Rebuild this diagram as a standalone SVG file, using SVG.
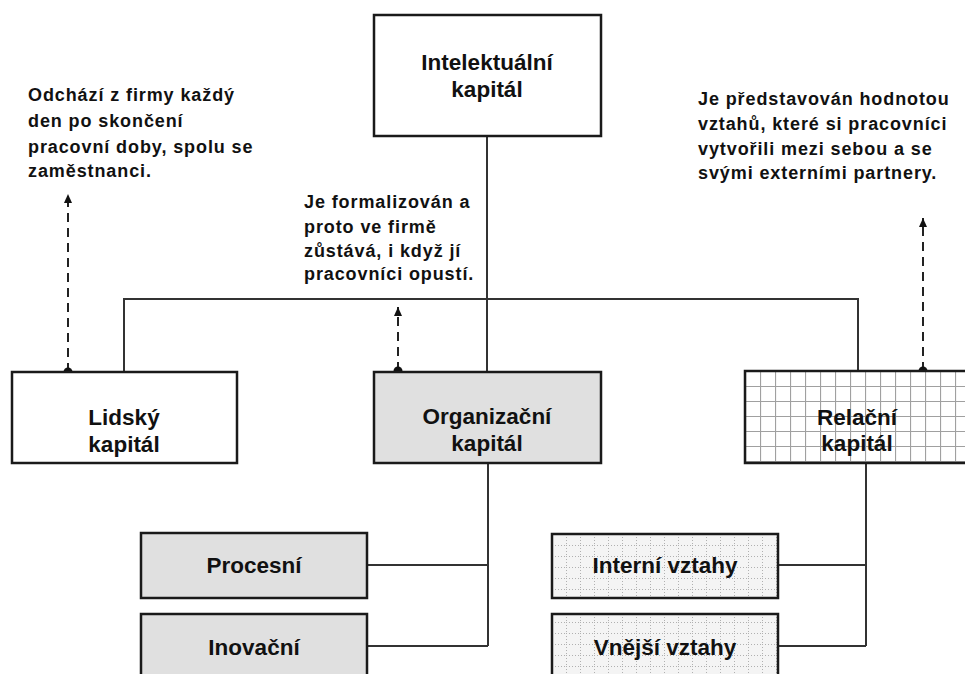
<svg xmlns="http://www.w3.org/2000/svg" width="965" height="674" viewBox="0 0 965 674">
<defs>
<style>
.box{stroke:#1a1a1a;stroke-width:2.5}
.lbl{font-family:"Liberation Sans",Arial,sans-serif;font-weight:bold;font-size:22.5px;fill:#111;text-anchor:middle}
.note{font-family:"Liberation Sans",Arial,sans-serif;font-weight:bold;font-size:18px;fill:#111;letter-spacing:0.9px}
.con{stroke:#333;stroke-width:2;fill:none}
.dash{stroke:#222;stroke-width:2;stroke-dasharray:9,6;fill:none}
</style>
<pattern id="grid" width="15" height="15" patternUnits="userSpaceOnUse" x="745" y="371">
<rect width="15" height="15" fill="#fff"/>
<path d="M0 0.5H15M0.5 0V15" stroke="#a0a0a0" stroke-width="1.2"/>
</pattern>
<pattern id="dots" width="14" height="11" patternUnits="userSpaceOnUse" x="552" y="534">
<rect width="14" height="11" fill="#f4f4f4"/>
<path d="M0 0.5H14M0.5 0V11" stroke="#b0b0b0" stroke-width="1" stroke-dasharray="1,2"/>
</pattern>
<marker id="arr" markerWidth="10" markerHeight="10" refX="9" refY="4.5" orient="auto" markerUnits="userSpaceOnUse">
<path d="M0 0.5 L9 4.5 L0 8.5 Z" fill="#111"/>
</marker>
</defs>

<g id="connectors">
<path class="con" d="M487 136V372"/>
<path class="con" d="M124 372V299H858V371"/>
<path class="con" d="M488 463V646"/>
<path class="con" d="M367 565H488M367 646H488"/>
<path class="con" d="M866 463V646"/>
<path class="con" d="M778 565H866M778 646H866"/>
<path class="dash" d="M68 372V194" marker-end="url(#arr)"/>
<path class="dash" d="M398 371V307" marker-end="url(#arr)"/>
<path class="dash" d="M923 371V218" marker-end="url(#arr)"/>
<circle cx="68" cy="372" r="4.5" fill="#111"/>
<circle cx="398" cy="371" r="4.5" fill="#111"/>
<circle cx="923" cy="371" r="4.5" fill="#111"/>
</g>

<g id="intelektualni">
<rect class="box" x="374" y="15" width="227" height="121" fill="#fff"/>
<text class="lbl" x="487" y="70">Intelektuální</text>
<text class="lbl" x="487" y="97">kapitál</text>
</g>

<g id="lidsky">
<rect class="box" x="12" y="372" width="225" height="91" fill="#fff"/>
<text class="lbl" x="124" y="425">Lidský</text>
<text class="lbl" x="124" y="452">kapitál</text>
</g>

<g id="organizacni">
<rect class="box" x="374" y="372" width="227" height="91" fill="#e0e0e0"/>
<text class="lbl" x="487" y="424">Organizační</text>
<text class="lbl" x="487" y="451">kapitál</text>
</g>

<g id="relacni">
<rect class="box" x="745" y="371" width="230" height="92" fill="url(#grid)"/>
<text class="lbl" x="857" y="425">Relační</text>
<text class="lbl" x="857" y="451">kapitál</text>
</g>

<g id="procesni">
<rect class="box" x="141" y="533" width="226" height="65" fill="#e0e0e0"/>
<text class="lbl" x="254" y="573">Procesní</text>
</g>

<g id="inovacni">
<rect class="box" x="141" y="614" width="226" height="70" fill="#e0e0e0"/>
<text class="lbl" x="254" y="655">Inovační</text>
</g>

<g id="interni">
<rect class="box" x="552" y="534" width="226" height="64" fill="url(#dots)"/>
<text class="lbl" x="665" y="573">Interní vztahy</text>
</g>

<g id="vnejsi">
<rect class="box" x="552" y="614" width="226" height="70" fill="url(#dots)"/>
<text class="lbl" x="665" y="655">Vnější vztahy</text>
</g>

<g id="notes">
<text class="note" x="28" y="101">Odchází z firmy každý</text>
<text class="note" x="28" y="127">den po skončení</text>
<text class="note" x="28" y="153">pracovní doby, spolu se</text>
<text class="note" x="28" y="177">zaměstnanci.</text>
<text class="note" x="304" y="208">Je formalizován a</text>
<text class="note" x="304" y="233">proto ve firmě</text>
<text class="note" x="304" y="257">zůstává, i když jí</text>
<text class="note" x="304" y="280">pracovníci opustí.</text>
<text class="note" x="698" y="105">Je představován hodnotou</text>
<text class="note" x="698" y="130">vztahů, které si pracovníci</text>
<text class="note" x="698" y="155">vytvořili mezi sebou a se</text>
<text class="note" x="698" y="179">svými externími partnery.</text>
</g>
</svg>
